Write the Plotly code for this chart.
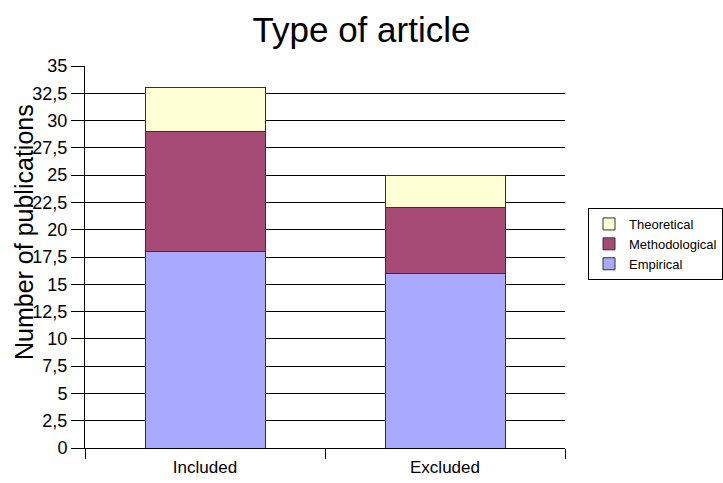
import plotly.graph_objects as go

categories = ["Included", "Excluded"]
empirical = [18, 16]
methodological = [11, 6]
theoretical = [4, 3]

fig = go.Figure()
fig.add_bar(name="Empirical", x=categories, y=empirical, legendgroup="e",
            marker=dict(color="#A9AAFF", line=dict(color="#333333", width=1)))
fig.add_bar(name="Methodological", x=categories, y=methodological, legendgroup="m",
            marker=dict(color="#A64A76", line=dict(color="#333333", width=1)))
fig.add_bar(name="Theoretical", x=categories, y=theoretical, legendgroup="t",
            marker=dict(color="#FFFFD5", line=dict(color="#333333", width=1)))

fig.update_layout(
    width=723, height=483,
    barmode="stack", bargap=0.5,
    separators=", ",
    plot_bgcolor="white", paper_bgcolor="white",
    margin=dict(l=85, r=158, t=66, b=35),
    font=dict(family="Liberation Sans, Arial, sans-serif", color="black", size=14),
    title=dict(text="Type of article", x=0.5, xref="container", xanchor="center",
               y=1 - 30 / 483, yref="container", yanchor="middle", font=dict(size=35)),
    showlegend=True,
    legend=dict(traceorder="reversed", xref="container", yref="container",
                x=588 / 723, y=1 - 208 / 483, xanchor="left", yanchor="top",
                bordercolor="black", borderwidth=1, bgcolor="white",
                font=dict(size=13), itemwidth=30, tracegroupgap=4),
    xaxis=dict(showline=True, linecolor="black", linewidth=1, ticks="outside",
               tickson="boundaries", ticklen=10, tickcolor="black", automargin=False,
               tickfont=dict(size=17), showgrid=False, ticklabelstandoff=4),
    yaxis=dict(range=[0, 35], dtick=2.5, tick0=0, showline=True, linecolor="black",
               linewidth=1, ticks="outside", ticklen=13, tickcolor="black", automargin=False,
               showgrid=True, gridcolor="black", gridwidth=1, zeroline=False,
               tickfont=dict(size=18), tickformat=".1~f"),
)
fig.add_annotation(text="Number of publications", xref="paper", yref="paper",
                   x=(24 - 85) / 480, y=(448 - 232) / 382, xanchor="center", yanchor="middle",
                   textangle=-90, showarrow=False, font=dict(size=25))
fig.write_html("out.html")
